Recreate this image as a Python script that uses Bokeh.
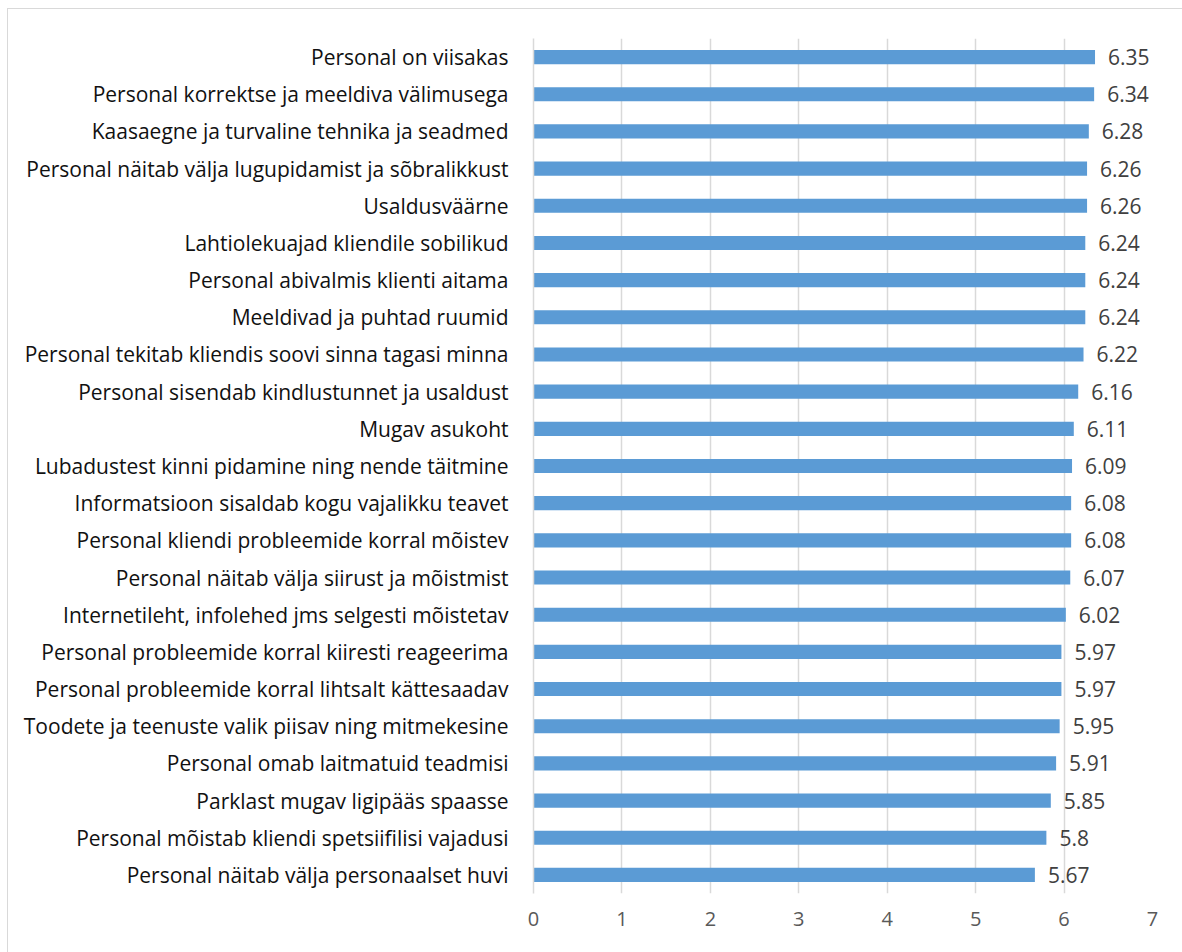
from bokeh.plotting import figure
from bokeh.models import FactorRange, ColumnDataSource, FixedTicker, Range1d
from bokeh.core.properties import value
from bokeh.embed import file_html
from bokeh.resources import INLINE

# Statements, listed top to bottom as shown
categories = [
    "Personal on viisakas",
    "Personal korrektse ja meeldiva välimusega",
    "Kaasaegne ja turvaline tehnika ja seadmed",
    "Personal näitab välja lugupidamist ja sõbralikkust",
    "Usaldusväärne",
    "Lahtiolekuajad kliendile sobilikud",
    "Personal abivalmis klienti aitama",
    "Meeldivad ja puhtad ruumid",
    "Personal tekitab kliendis soovi sinna tagasi minna",
    "Personal sisendab kindlustunnet ja usaldust",
    "Mugav asukoht",
    "Lubadustest kinni pidamine ning nende täitmine",
    "Informatsioon sisaldab kogu vajalikku teavet",
    "Personal kliendi probleemide korral mõistev",
    "Personal näitab välja siirust ja mõistmist",
    "Internetileht, infolehed jms selgesti mõistetav",
    "Personal probleemide korral kiiresti reageerima",
    "Personal probleemide korral lihtsalt kättesaadav",
    "Toodete ja teenuste valik piisav ning mitmekesine",
    "Personal omab laitmatuid teadmisi",
    "Parklast mugav ligipääs spaasse",
    "Personal mõistab kliendi spetsiifilisi vajadusi",
    "Personal näitab välja personaalset huvi",
]
scores = [6.35, 6.34, 6.28, 6.26, 6.26, 6.24, 6.24, 6.24, 6.22, 6.16, 6.11, 6.09,
          6.08, 6.08, 6.07, 6.02, 5.97, 5.97, 5.95, 5.91, 5.85, 5.8, 5.67]
score_labels = ["6.35", "6.34", "6.28", "6.26", "6.26", "6.24", "6.24", "6.24", "6.22",
                "6.16", "6.11", "6.09", "6.08", "6.08", "6.07", "6.02", "5.97", "5.97",
                "5.95", "5.91", "5.85", "5.8", "5.67"]
x_ticks = [0, 1, 2, 3, 4, 5, 6, 7]

FONT = "Open Sans"

source = ColumnDataSource(dict(cat=categories, val=scores, lbl=score_labels))

p = figure(
    width=1175, height=944,
    y_range=FactorRange(factors=list(reversed(categories)), range_padding=0),
    x_range=Range1d(0, 7),
    output_backend="svg", toolbar_location=None,
    min_border_left=525, min_border_right=31,
    min_border_top=29, min_border_bottom=60,
)
p.margin = (8, 0, 0, 7)
p.styles = {"border-left": "1px solid #d9d9d9", "border-top": "1px solid #d9d9d9"}
p.outline_line_color = None
p.background_fill_color = "white"
p.border_fill_color = "white"

p.hbar(y="cat", right="val", left=0, height=0.38, source=source,
       fill_color="#5B9BD5", line_color=None)

p.text(x="val", y="cat", text="lbl", source=source, x_offset=13,
       text_baseline="middle", text_align="left",
       text_font=value(FONT), text_font_size="21px", text_color="#404040")

# x axis: labels only, grid lines carry the scale
p.xaxis.ticker = FixedTicker(ticks=x_ticks)
p.xaxis.axis_line_color = None
p.xaxis.major_tick_line_color = None
p.xaxis.minor_tick_line_color = None
p.xaxis.major_label_text_font = FONT
p.xaxis.major_label_text_font_size = "20px"
p.xaxis.major_label_text_color = "#595959"
p.xaxis.major_label_standoff = 12
p.xgrid.grid_line_color = "#d9d9d9"
p.xgrid.grid_line_width = 1.5
p.ygrid.grid_line_color = None

p.yaxis.axis_line_color = "#d9d9d9"
p.yaxis.axis_line_width = 1.5
p.yaxis.major_tick_line_color = None
p.yaxis.minor_tick_line_color = None
p.yaxis.major_label_text_font = FONT
p.yaxis.major_label_text_font_size = "21px"
p.yaxis.major_label_text_color = "#111111"
p.yaxis.major_label_standoff = 19

open("out.html", "w").write(file_html(p, INLINE))
